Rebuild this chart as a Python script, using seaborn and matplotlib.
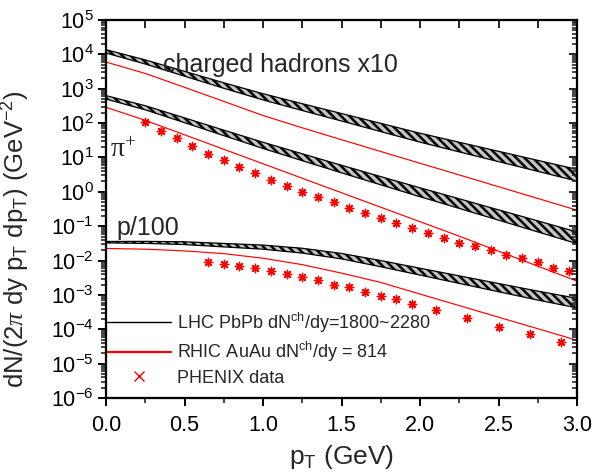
import numpy as np
import pandas as pd
import matplotlib
matplotlib.use("Agg")
import matplotlib.pyplot as plt
from matplotlib.lines import Line2D
from matplotlib.ticker import LogLocator, MultipleLocator, FormatStrFormatter, NullFormatter
import seaborn as sns

# ---------------- data ----------------
pt_grid = [0.0, 0.25, 0.5, 0.75, 1.0, 1.25, 1.5, 1.75, 2.0, 2.25, 2.5, 2.75, 3.0]

# LHC (black hatched bands): upper / lower edges
lhc_ch_hi = [1.37e4, 6.90e3, 3.21e3, 1.49e3, 716, 367, 190, 98.2, 50.8, 27.7, 15.1, 8.24, 4.50]
lhc_ch_lo = [1.09e4, 5.24e3, 2.32e3, 1.03e3, 473, 232, 115, 56.5, 27.9, 14.5, 7.57, 3.94, 2.06]
lhc_pi_hi = [631, 320, 142, 62.4, 27.7, 12.8, 5.93, 2.77, 1.31, 0.627, 0.299, 0.143, 0.0681]
lhc_pi_lo = [501, 243, 103, 43.2, 18.3, 8.05, 3.57, 1.60, 0.721, 0.329, 0.150, 0.0682, 0.0311]
lhc_p_hi = [0.0359, 0.0362, 0.0352, 0.0315, 0.0282, 0.0228, 0.0161, 0.0100, 0.00598, 0.00359, 0.00215, 0.00129, 0.000798]
lhc_p_lo = [0.0327, 0.0316, 0.0292, 0.0250, 0.0214, 0.0165, 0.0112, 0.00661, 0.00378, 0.00216, 0.00124, 0.000708, 0.000419]

# RHIC (red lines)
rhic_ch = [5970, 2786, 1099, 428, 166, 72.9, 32.9, 14.9, 6.78, 3.10, 1.41, 0.643, 0.292]
rhic_pi = [288, 120.5, 45.7, 17.3, 6.56, 2.48, 0.942, 0.356, 0.135, 0.0512, 0.0187, 0.00687, 0.00252]
rhic_p = [0.0225, 0.0214, 0.0191, 0.0159, 0.0117, 0.00760, 0.00431, 0.00231, 0.00106, 0.000489, 0.000225, 0.000104, 0.0000479]

# PHENIX data
phenix_pi_pt = [0.25, 0.35, 0.45, 0.55, 0.65, 0.75, 0.85, 0.95, 1.05, 1.15, 1.25, 1.35, 1.45, 1.55,
                1.65, 1.75, 1.85, 1.95, 2.05, 2.15, 2.25, 2.35, 2.45, 2.55, 2.65, 2.75, 2.85, 2.95]
phenix_pi = [105, 58, 36, 21, 13, 8.3, 5.2, 3.5, 2.2, 1.46, 0.97, 0.70, 0.50, 0.33,
             0.24, 0.17, 0.12, 0.087, 0.065, 0.045, 0.033, 0.026, 0.020, 0.0150, 0.0115, 0.0090, 0.0062, 0.0050]
phenix_p_pt = [0.65, 0.75, 0.85, 0.95, 1.05, 1.15, 1.25, 1.35, 1.45, 1.55, 1.65, 1.75, 1.85, 1.95,
               2.1, 2.3, 2.5, 2.7, 2.9]
phenix_p = [0.0089, 0.0082, 0.0069, 0.0060, 0.0049, 0.0040, 0.0033, 0.0027, 0.0020, 0.0017, 0.0012, 0.00093,
            0.00076, 0.00054, 0.00036, 0.00021, 0.000115, 0.000072, 0.000043]

legend_labels = [r"LHC PbPb dN$^{ch}$/dy=1800~2280", r"RHIC AuAu dN$^{ch}$/dy = 814", "PHENIX data"]

# ---------------- style ----------------
sns.set_theme(style="ticks")
plt.rcParams.update({
    "font.family": ["Liberation Sans", "DejaVu Sans"],
    "mathtext.fontset": "custom",
    "mathtext.rm": "Liberation Sans",
    "mathtext.it": "Liberation Serif:italic",
    "mathtext.bf": "Liberation Sans:bold",
    "mathtext.sf": "Liberation Sans",
    "mathtext.default": "regular",
    "hatch.linewidth": 1.8,
    "axes.linewidth": 1.5,
})

fig = plt.figure(figsize=(5.94, 4.74), dpi=100)
ax = fig.add_axes([0.1785, 0.1603, 0.7929, 0.7975])

# bands
edges = []
for name, lo, hi in [("ch", lhc_ch_lo, lhc_ch_hi), ("pi", lhc_pi_lo, lhc_pi_hi), ("p", lhc_p_lo, lhc_p_hi)]:
    ax.fill_between(pt_grid, lo, hi, facecolor="#c4c4c4", edgecolor="black", hatch="\\\\\\\\", linewidth=0)
    edges.append(pd.DataFrame({"pt": pt_grid, "val": lo, "curve": name + "_lo"}))
    edges.append(pd.DataFrame({"pt": pt_grid, "val": hi, "curve": name + "_hi"}))
df_edges = pd.concat(edges, ignore_index=True)
sns.lineplot(data=df_edges, x="pt", y="val", units="curve", estimator=None, color="black", lw=0.9, ax=ax)

df_red = pd.concat([
    pd.DataFrame({"pt": pt_grid, "val": rhic_ch, "curve": "ch"}),
    pd.DataFrame({"pt": pt_grid, "val": rhic_pi, "curve": "pi"}),
    pd.DataFrame({"pt": pt_grid, "val": rhic_p, "curve": "p"}),
], ignore_index=True)
sns.lineplot(data=df_red, x="pt", y="val", units="curve", estimator=None, color="red", lw=0.85, ax=ax)

df_pts = pd.concat([
    pd.DataFrame({"pt": phenix_pi_pt, "val": phenix_pi}),
    pd.DataFrame({"pt": phenix_p_pt, "val": phenix_p}),
], ignore_index=True)
sns.scatterplot(data=df_pts, x="pt", y="val", marker=(8, 2, 0), s=36, color="red",
                edgecolor="red", linewidth=1.0, ax=ax, zorder=5)

ax.set_yscale("log")
ax.set_xlim(0, 3)
ax.set_ylim(1e-6, 1e5)
ax.yaxis.set_major_locator(LogLocator(base=10, numticks=20))
ax.yaxis.set_minor_locator(LogLocator(base=10, subs=np.arange(2, 10), numticks=200))
ax.yaxis.set_minor_formatter(NullFormatter())
ax.xaxis.set_major_locator(MultipleLocator(0.5))
ax.xaxis.set_minor_locator(MultipleLocator(0.25))
ax.xaxis.set_major_formatter(FormatStrFormatter("%.1f"))
ax.tick_params(which="major", direction="out", length=6, width=1.4, labelsize=15.5, pad=3, colors="black")
ax.tick_params(which="minor", direction="out", length=3.5, width=1.2)
ax.tick_params(axis="x", which="major", pad=6)

# top / right inward ticks
axt = ax.twiny()
axt.set_xlim(0, 3)
axt.xaxis.set_major_locator(MultipleLocator(0.5))
axt.xaxis.set_minor_locator(MultipleLocator(0.25))
axt.tick_params(which="both", direction="in", length=6, width=1.4, labeltop=False)
axr = ax.twinx()
axr.set_yscale("log")
axr.set_ylim(1e-6, 1e5)
axr.yaxis.set_major_locator(LogLocator(base=10, numticks=20))
axr.yaxis.set_minor_locator(LogLocator(base=10, subs=np.arange(2, 10), numticks=200))
axr.tick_params(which="major", direction="in", length=6, width=1.4, labelright=False)
axr.tick_params(which="minor", direction="in", length=3.5, width=1.2, labelright=False)
for a in (ax, axt, axr):
    for s in a.spines.values():
        s.set_linewidth(1.5)
        s.set_color("black")

ax.set_xlabel(r"p$_{T}$ (GeV)", fontsize=19, labelpad=5)
ax.set_ylabel(r"dN/(2$\mathit{\pi}$ dy p$_{T}$ dp$_{T}$) (GeV$^{-2}$)", fontsize=18.5)
ax.yaxis.set_label_coords(-0.157, 0.42)

ax.text(0.121, 0.862, "charged hadrons x10", transform=ax.transAxes, fontsize=18, va="baseline", ha="left")
ax.text(0.009, 0.638, r"π$^{+}$", transform=ax.transAxes, fontsize=20, va="baseline", ha="left",
        family=["Liberation Serif", "DejaVu Serif"])
ax.text(0.023, 0.431, "p/100", transform=ax.transAxes, fontsize=18, va="baseline", ha="left")

handles = [Line2D([], [], color="black", lw=1.0),
           Line2D([], [], color="red", lw=1.6),
           Line2D([], [], color="red", marker="x", ls="none", ms=7, mew=1.0)]
ax.legend(handles, legend_labels, loc="lower left", bbox_to_anchor=(0.003, 0.03), frameon=False,
          fontsize=13, handlelength=3.5, handletextpad=0.35, labelspacing=0.3,
          borderaxespad=0, borderpad=0)

fig.savefig("out.png", dpi=100)
